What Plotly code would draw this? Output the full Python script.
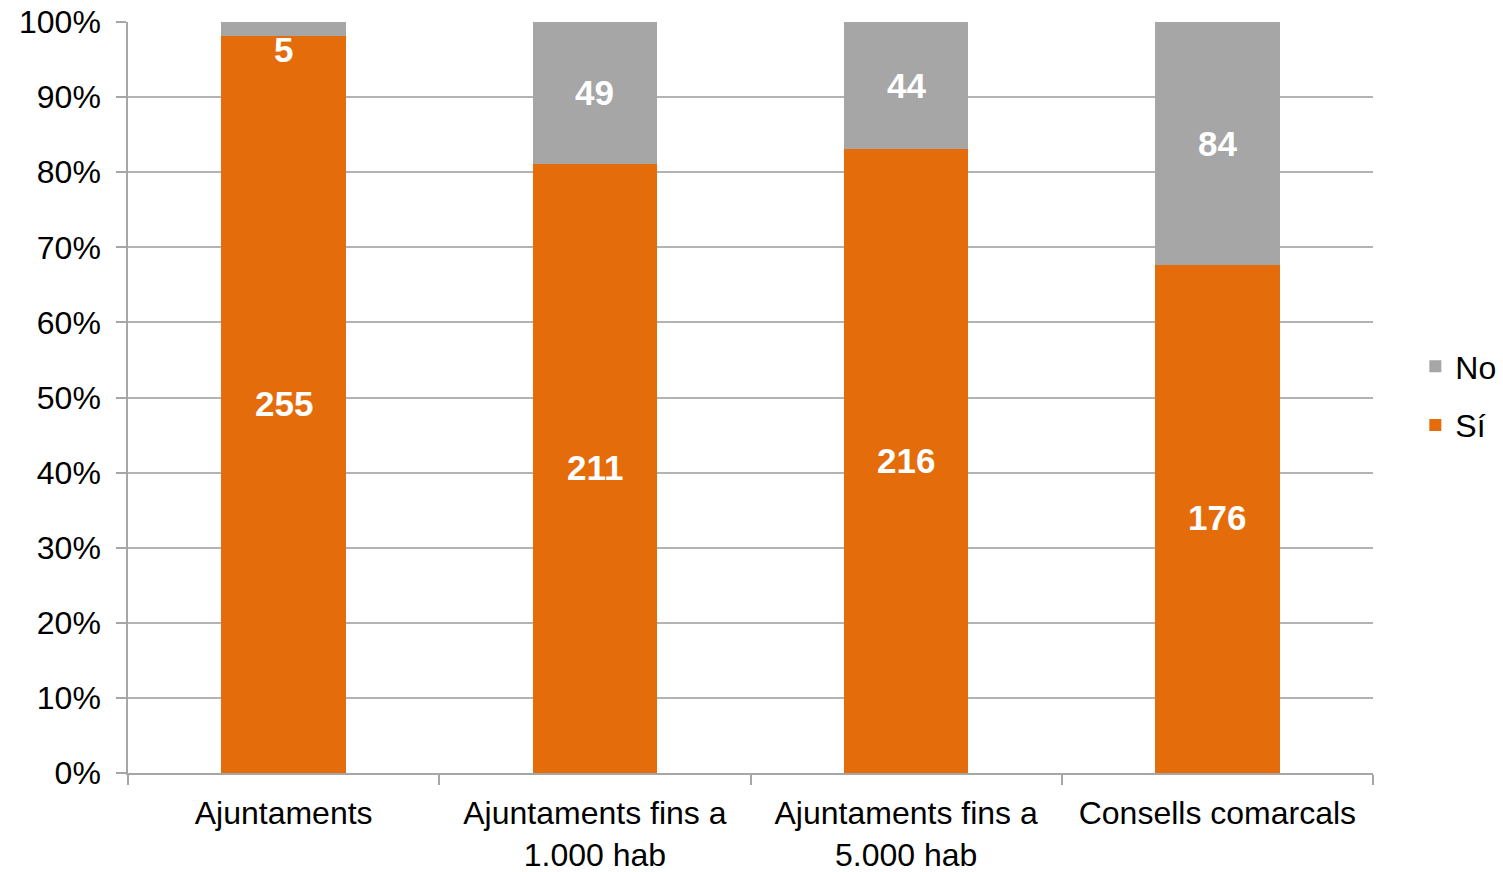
import plotly.graph_objects as go

categories = ["Ajuntaments", "Ajuntaments fins a<br>1.000 hab", "Ajuntaments fins a<br>5.000 hab", "Consells comarcals"]
si_counts = [255, 211, 216, 176]
no_counts = [5, 49, 44, 84]
tick_vals = [0, 10, 20, 30, 40, 50, 60, 70, 80, 90, 100]
tick_text = [f"{v}%" for v in tick_vals]

ORANGE = "#E46C0A"
GRAY = "#A6A6A6"
FONT = "Liberation Sans, Arial, sans-serif"

totals = [s + n for s, n in zip(si_counts, no_counts)]
si_pct = [100 * s / t for s, t in zip(si_counts, totals)]
no_pct = [100 * n / t for n, t in zip(no_counts, totals)]

fig = go.Figure()
fig.add_trace(go.Bar(x=categories, y=si_pct, name="Sí", legendgroup="si", legendrank=2,
                     marker=dict(color=ORANGE, line=dict(width=0))))
fig.add_trace(go.Bar(x=categories, y=no_pct, name="No", legendgroup="no", legendrank=1,
                     marker=dict(color=GRAY, line=dict(width=0))))

annotations = []
for c, s, n, sp, npc in zip(categories, si_counts, no_counts, si_pct, no_pct):
    lbl_font = dict(family=FONT, size=35, color="white", weight="bold")
    annotations.append(dict(x=c, y=sp / 2, text=f"<b>{s}</b>", showarrow=False,
                            font=lbl_font, xref="x", yref="y", yshift=1))
    if npc < 5:
        annotations.append(dict(x=c, y=sp, text=f"<b>{n}</b>", showarrow=False, yanchor="top",
                                font=lbl_font, xref="x", yref="y", yshift=8))
    else:
        annotations.append(dict(x=c, y=sp + npc / 2, text=f"<b>{n}</b>", showarrow=False,
                                font=lbl_font, xref="x", yref="y"))

fig.update_layout(
    barmode="stack",
    bargap=0.6,
    width=1503, height=872,
    margin=dict(l=128, r=130, t=22, b=99, autoexpand=False),
    paper_bgcolor="white", plot_bgcolor="white",
    font=dict(family=FONT, size=32, color="#000000"),
    showlegend=True,
    legend=dict(x=1.034, y=0.502, xanchor="left", yanchor="middle", traceorder="grouped",
                font=dict(family=FONT, size=32, color="#000000"), itemwidth=30, tracegroupgap=14),
    annotations=annotations,
    xaxis=dict(showline=True, linecolor="#A6A6A6", linewidth=1.5, ticks="outside", tickson="boundaries",
               ticklen=10, tickcolor="#A6A6A6", tickwidth=1.5, tickfont=dict(size=32),
               showgrid=False, ticklabelstandoff=11, automargin=False),
    yaxis=dict(range=[0, 100], tickvals=tick_vals, ticktext=tick_text, showline=True, linecolor="#A6A6A6",
               linewidth=1.5, ticks="outside", ticklen=10, tickcolor="#A6A6A6", tickwidth=1.5,
               showgrid=True, gridcolor="#B3B3B3", gridwidth=1.5, tickfont=dict(size=32),
               ticklabelstandoff=9, zeroline=False, automargin=False, ticklabeloverflow="allow"),
)

fig.write_html("out.html", config={"displayModeBar": False},
               post_script="document.body.style.margin='0';document.body.style.overflow='hidden';")
